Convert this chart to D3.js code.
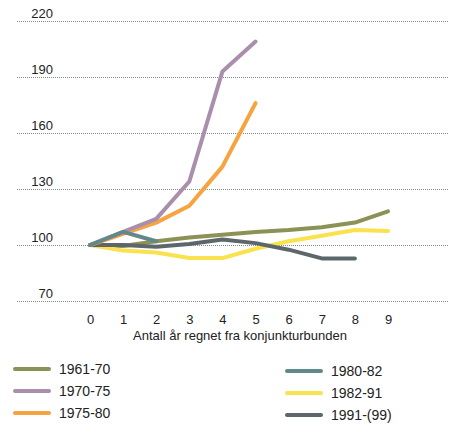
<!DOCTYPE html>
<html><head><meta charset="utf-8">
<script src="https://cdn.jsdelivr.net/npm/d3@7"></script>
<style>body{margin:0;background:#fff;} text{font-family:"Liberation Sans",Arial,sans-serif;}</style>
</head><body>
<svg id="c" width="454" height="425"></svg>
<script>
const years = [0,1,2,3,4,5,6,7,8,9];
const yTicks = [70,100,130,160,190,220];
const seriesNames = ["1961-70","1970-75","1975-80","1980-82","1982-91","1991-(99)"];
const s1961 = [100, 99.5, 102, 104, 105.5, 107, 108, 109.5, 112, 118];
const s1970 = [100, 107, 114, 134, 193, 209];
const s1975 = [100, 106, 112, 121, 142, 176];
const s1980 = [100, 107, 102];
const s1982 = [100, 97, 96, 93, 93, 98, 102, 105, 108, 107.5];
const s1991 = [100, 100, 99, 100.5, 103, 101, 97.5, 92.8, 92.8];
const colors = ["#8c9155","#a98fac","#f7a340","#62898a","#f9e24e","#5d666a"];
const xTitle = "Antall år regnet fra konjunkturbunden";

const data = [s1961,s1970,s1975,s1980,s1982,s1991];
const svg = d3.select("#c");
const x = d3.scaleLinear().domain([0,9]).range([90,388]);
const y = d3.scaleLinear().domain([70,220]).range([301,21]);

// gridlines + y labels
const ga = svg.append("g").attr("transform","translate(17,0)")
  .call(d3.axisRight(y).tickValues(yTicks).tickSize(431).tickFormat(d3.format("d")));
ga.select(".domain").remove();
ga.selectAll("line").attr("stroke","#888").attr("stroke-width",1).attr("stroke-dasharray","1,1");
ga.selectAll("text").attr("x",36).attr("dy",-4).attr("text-anchor","end")
  .attr("fill","#222").style("font-size","13px");

// x labels
const gx = svg.append("g").attr("transform","translate(0,312)")
  .call(d3.axisBottom(x).tickValues(years).tickSize(0).tickFormat(d3.format("d")));
gx.select(".domain").remove();
gx.selectAll("text").attr("fill","#222").style("font-size","13px").attr("dy","0.71em");
svg.append("text").attr("x",240).attr("y",340).attr("text-anchor","middle")
  .attr("fill","#222").style("font-size","13px").text(xTitle);

const line = d3.line().x((d,i)=>x(years[i])).y(d=>y(d));
const order = [0,4,5,2,1,3];
order.forEach(k=>{
  svg.append("path").datum(data[k]).attr("d",line).attr("fill","none")
    .attr("stroke",colors[k]).attr("stroke-width",4).attr("stroke-linejoin","round").attr("stroke-linecap","round");
});

// legend
const legPos = [[13,369],[13,391],[13,413],[285,371],[285,393],[285,415]];
seriesNames.forEach((n,k)=>{
  const [lx,ly] = legPos[k];
  svg.append("line").attr("x1",lx+2).attr("x2",lx+36).attr("y1",ly).attr("y2",ly)
    .attr("stroke",colors[k]).attr("stroke-width",4).attr("stroke-linecap","round");
  svg.append("text").attr("x",lx+46).attr("y",ly+5).attr("fill","#222").style("font-size","14px").text(n);
});
</script>
</body></html>
